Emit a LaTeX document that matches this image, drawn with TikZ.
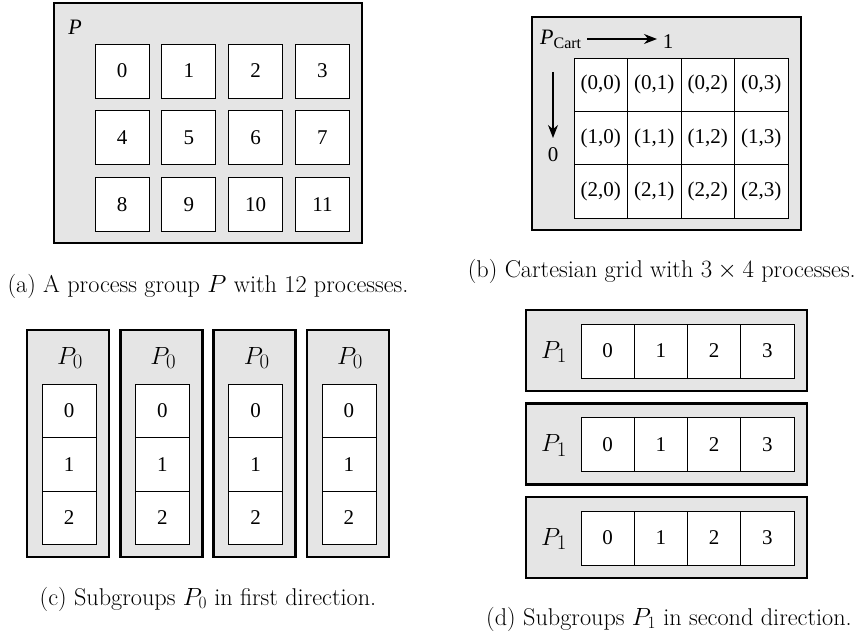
\documentclass[tikz,border=0pt]{standalone}
\usepackage{fontspec}
\newfontfamily\diagfont{Liberation Serif}
\usetikzlibrary{arrows.meta}
\definecolor{groupgray}{gray}{0.9}

\begin{document}
\begin{tikzpicture}[x=1pt,y=-1pt,
  groupbox/.style={draw=black,line width=2.5pt,fill=groupgray,inner sep=0pt},
  proc/.style={draw=black,line width=0.9pt,fill=white,inner sep=0pt,
    font=\diagfont\fontsize{21}{25}\selectfont},
  glabel/.style={inner sep=0pt,font=\fontsize{24.88}{30}\selectfont},
  dirlabel/.style={inner sep=0pt,font=\diagfont\fontsize{21}{25}\selectfont},
  caption/.style={anchor=base,inner sep=0pt,font=\fontsize{24.25}{29}\selectfont},
  axis/.style={line width=1.2pt,-{Stealth[length=13pt,width=10pt]}}]

\useasboundingbox (0,0) rectangle (859,634);

% (a) process group with twelve processes
\node[groupbox,minimum width=308pt,minimum height=240pt] (grpA) at (208,123) {};
\node[dirlabel,font=\diagfont\itshape\fontsize{22}{26}\selectfont] (labA) at (75,27) {P};
\foreach \row in {0,1,2} {
  \foreach \col in {0,1,2,3} {
    \pgfmathtruncatemacro\n{4*\row+\col}
    \node[proc,minimum size=54pt] (a\n) at ({122+66.8*\col},{71+66.8*\row}) {\n};
  }
}
\node[caption] (capA) at (208,292) {(a) A process group $P$ with 12 processes.};

% (b) Cartesian grid
\node[groupbox,minimum width=269pt,minimum height=213pt] (grpB) at (666.5,123.5) {};
\foreach \row in {0,1,2} {
  \foreach \col in {0,1,2,3} {
    \node[proc,minimum width=53.5pt,minimum height=53.33pt] (b\row\col)
      at ({600.75+53.5*\col},{84.7+53.33*\row}) {(\row,\col)};
  }
}
\node[inner sep=0pt,anchor=base west] (pcart) at (540,45)
  {\diagfont\fontsize{22}{26}\selectfont\itshape P\upshape\fontsize{16}{19}\selectfont\raisebox{-4pt}{Cart}};
\node[dirlabel] (dirOne) at (668,42) {1};
\node[dirlabel] (dirZero) at (553,155) {0};
\coordinate (hStart) at (587,39);
\coordinate (hEnd) at (657,39);
\coordinate (vStart) at (553,72);
\coordinate (vEnd) at (553,138);
\draw[axis] (hStart) -- (hEnd);
\draw[axis] (vStart) -- (vEnd);
\node[caption,anchor=base east] (capB) at (856,277) {(b) Cartesian grid with $3\times 4$ processes.};

% (c) subgroups along the first direction
\foreach \k in {0,1,2,3} {
  \node[groupbox,minimum width=82pt,minimum height=227pt] (grpC\k) at ({68+93.33*\k},443.5) {};
  \node[glabel] (labC\k) at ({70+93.33*\k},358) {$P_0$};
  \foreach \row in {0,1,2} {
    \node[proc,minimum width=54pt,minimum height=53.5pt] (c\k\row)
      at ({69+93.33*\k},{411+53.5*\row}) {\row};
  }
}
\node[caption] (capC) at (208,605) {(c) Subgroups $P_0$ in first direction.};

% (d) subgroups along the second direction
\foreach \m in {0,1,2} {
  \node[groupbox,minimum width=281pt,minimum height=81pt] (grpD\m) at (666.5,{350.5+93.5*\m}) {};
  \node[glabel] (labD\m) at (554,{352+93.5*\m}) {$P_1$};
  \foreach \col in {0,1,2,3} {
    \node[proc,minimum width=53.25pt,minimum height=54pt] (d\m\col)
      at ({607.6+53.25*\col},{351+93.5*\m}) {\col};
  }
}
\node[caption] (capD) at (669,625) {(d) Subgroups $P_1$ in second direction.};
\end{tikzpicture}
\end{document}
